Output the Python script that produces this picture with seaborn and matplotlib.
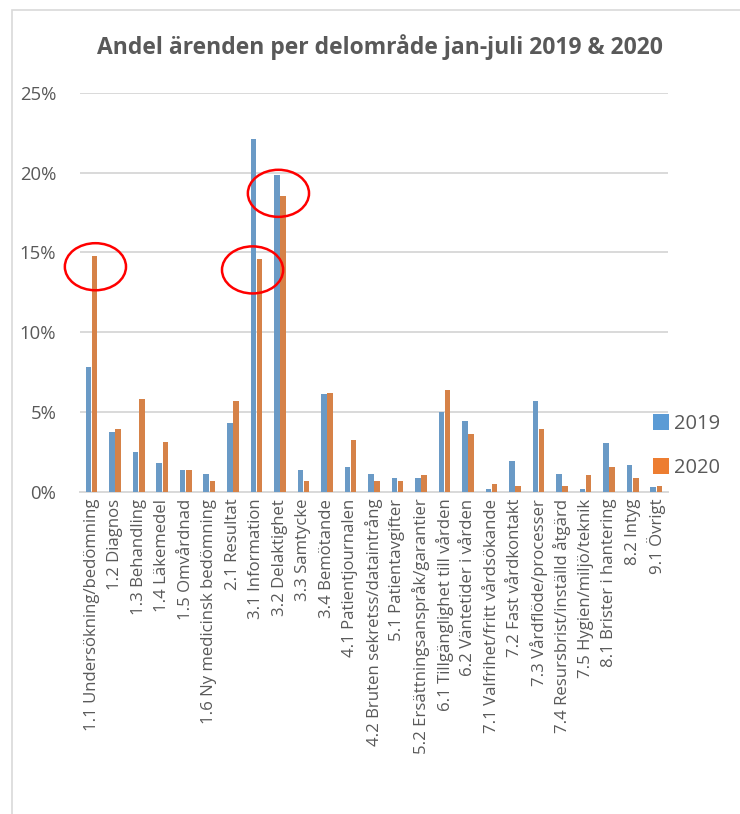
import pandas as pd
import matplotlib.pyplot as plt
import seaborn as sns
from matplotlib.patches import Ellipse, Rectangle, Patch
from matplotlib.ticker import PercentFormatter

categories = [
    '1.1 Undersökning/bedömning', '1.2 Diagnos', '1.3 Behandling', '1.4 Läkemedel',
    '1.5 Omvårdnad', '1.6 Ny medicinsk bedömning', '2.1 Resultat', '3.1 Information',
    '3.2 Delaktighet', '3.3 Samtycke', '3.4 Bemötande', '4.1 Patientjournalen',
    '4.2 Bruten sekretss/dataintrång', '5.1 Patientavgifter',
    '5.2 Ersättningsanspråk/garantier', '6.1 Tillgänglighet till vården',
    '6.2 Väntetider i vården', '7.1 Valfrihet/fritt vårdsökande', '7.2 Fast vårdkontakt',
    '7.3 Vårdflöde/processer', '7.4 Resursbrist/inställd åtgärd', '7.5 Hygien/miljö/teknik',
    '8.1 Brister i hantering', '8.2 Intyg', '9.1 Övrigt',
]
share_2019 = [7.8, 3.76, 2.49, 1.80, 1.36, 1.11, 4.30, 22.1, 19.86, 1.36, 6.12, 1.53,
              1.11, 0.84, 0.84, 5.0, 4.45, 0.15, 1.92, 5.7, 1.11, 0.15, 3.05, 1.67, 0.27]
share_2020 = [14.77, 3.93, 5.81, 3.09, 1.36, 0.67, 5.66, 14.58, 18.55, 0.67, 6.18, 3.24,
              0.67, 0.67, 1.05, 6.38, 3.62, 0.50, 0.33, 3.95, 0.33, 1.05, 1.55, 0.86, 0.33]
years = ['2019', '2020']

# red circles drawn on top of the chart (x in category units, y in percent)
highlights = [(0.16, 14.1), (6.84, 13.9), (7.94, 18.7)]

df = pd.DataFrame({
    'Delområde': categories * 2,
    'Andel': share_2019 + share_2020,
    'År': [years[0]] * len(categories) + [years[1]] * len(categories),
})

sns.set_style('white')
plt.rcParams['font.family'] = ['Open Sans', 'DejaVu Sans']

grey_text = '#595959'
grid_grey = '#D9D9D9'
colors = ['#5B9BD5', '#ED7D31']

fig = plt.figure(figsize=(7.4, 8.14), dpi=100)
ax = fig.add_axes([79.9 / 740, 322.3 / 814, 588.1 / 740, 398.9 / 814])

sns.barplot(data=df, x='Delområde', y='Andel', hue='År', order=categories,
            palette=colors, width=0.52, gap=0.1, ax=ax, legend=False,
            edgecolor='none', zorder=3)

ax.set_ylim(0, 25)
ax.set_xlim(-0.5, len(categories) - 0.5)
ax.set_yticks([0, 5, 10, 15, 20, 25])
ax.yaxis.set_major_formatter(PercentFormatter(decimals=0))
ax.grid(axis='y', color=grid_grey, linewidth=1.4, zorder=0)
for side in ['top', 'right', 'left']:
    ax.spines[side].set_visible(False)
ax.spines['bottom'].set_color(grid_grey)
ax.spines['bottom'].set_linewidth(1.4)
ax.set_xlabel('')
ax.set_ylabel('')
ax.tick_params(axis='y', labelsize=13.3, colors=grey_text, length=0, pad=17)
ax.tick_params(axis='x', labelsize=12.1, colors=grey_text, length=0, pad=5)
plt.setp(ax.get_xticklabels(), rotation=90, ha='center', va='top')

for cx, cy in highlights:
    ax.add_patch(Ellipse((cx, cy), 2.6, 2.95, fill=False, edgecolor='#FF0000',
                         linewidth=1.8, clip_on=False, zorder=5))

handles = [Patch(facecolor=c, edgecolor='none') for c in colors]
fig.legend(handles, years, loc='center left', bbox_to_anchor=(645 / 740, 368 / 814),
           frameon=False, fontsize=14.5, labelcolor=grey_text, handlelength=0.8,
           handleheight=0.8, handletextpad=0.25, labelspacing=1.2, borderaxespad=0)

fig.text(380 / 740, 1 - 47 / 814, 'Andel ärenden per delområde jan-juli 2019 & 2020',
         ha='center', va='center', fontsize=16.5, fontweight='bold', color=grey_text)

fig.patches.append(Rectangle((12 / 740, -0.05), 1.0, 1 - 10 / 814 + 0.05,
                             transform=fig.transFigure, fill=False,
                             edgecolor=grid_grey, linewidth=1.2))

fig.savefig('out.png', dpi=100)
